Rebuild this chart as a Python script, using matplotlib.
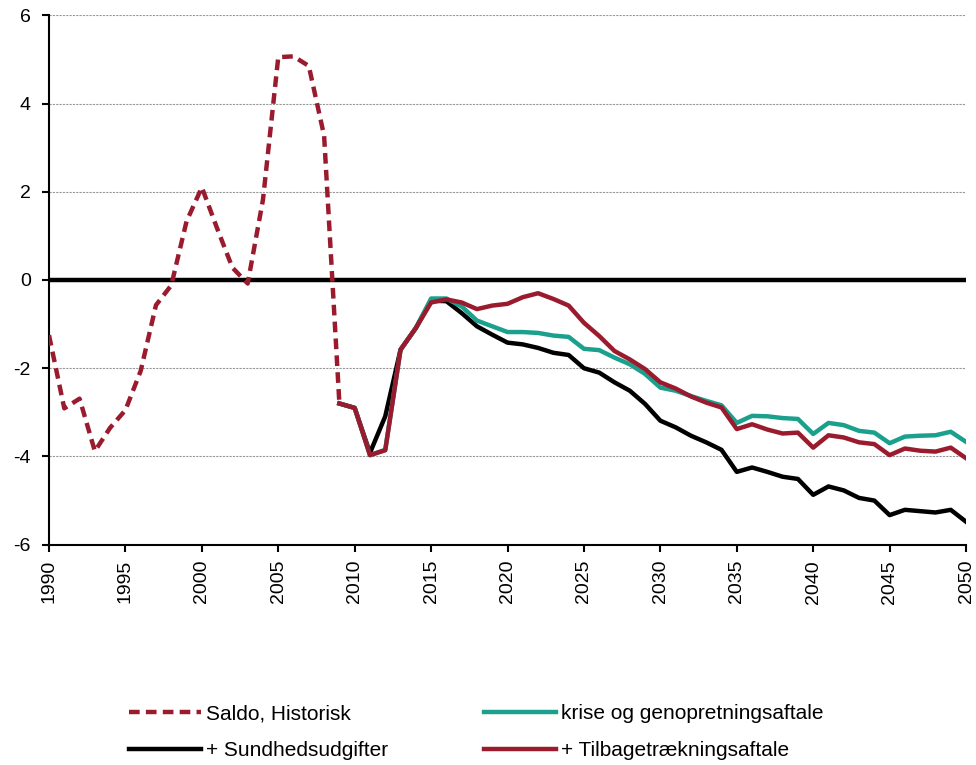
import matplotlib
matplotlib.use("Agg")
import matplotlib.pyplot as plt
import numpy as np

plt.rcParams['font.family'] = ['Liberation Sans', 'DejaVu Sans']
plt.rcParams['axes.unicode_minus'] = False

# --- data -----------------------------------------------------------
hist_years = list(range(1990, 2010))
hist_vals = [-1.25, -2.91, -2.69, -3.88, -3.35, -2.95, -2.06, -0.57, -0.12, 1.33,
             2.10, 1.17, 0.28, -0.08, 1.82, 5.05, 5.07, 4.85, 3.27, -2.80]

proj_years = list(range(2009, 2051))
krise = [-2.80, -2.90, -3.97, -3.85, -1.58, -1.09, -0.42, -0.42, -0.60, -0.92,
         -1.05, -1.18, -1.18, -1.20, -1.26, -1.29, -1.56, -1.59, -1.76, -1.91,
         -2.13, -2.44, -2.51, -2.63, -2.74, -2.84, -3.24, -3.08, -3.09, -3.13,
         -3.15, -3.49, -3.24, -3.29, -3.42, -3.46, -3.70, -3.55, -3.53, -3.52,
         -3.44, -3.67]
sundhed = [-2.80, -2.90, -3.92, -3.09, -1.58, -1.09, -0.47, -0.48, -0.75, -1.05,
           -1.24, -1.42, -1.46, -1.54, -1.65, -1.70, -2.00, -2.10, -2.32, -2.51,
           -2.81, -3.19, -3.34, -3.53, -3.68, -3.85, -4.35, -4.25, -4.35, -4.46,
           -4.51, -4.87, -4.68, -4.77, -4.94, -5.00, -5.33, -5.21, -5.24, -5.27,
           -5.21, -5.48]
tilbage = [-2.80, -2.90, -3.97, -3.86, -1.58, -1.09, -0.51, -0.44, -0.51, -0.66,
           -0.58, -0.54, -0.39, -0.30, -0.43, -0.58, -0.97, -1.27, -1.61, -1.80,
           -2.02, -2.32, -2.46, -2.64, -2.78, -2.89, -3.38, -3.27, -3.39, -3.48,
           -3.46, -3.80, -3.52, -3.57, -3.68, -3.72, -3.97, -3.82, -3.87, -3.89,
           -3.80, -4.04]

labels = ['Saldo, Historisk', '+ Sundhedsudgifter',
          'krise og genopretningsaftale', '+ Tilbagetrækningsaftale']

red = '#9B1B2E'
teal = '#1BA08D'

# --- plot -----------------------------------------------------------
fig = plt.figure(figsize=(9.76, 7.65), dpi=100)
ax = fig.add_axes([0.0502, 0.288, 0.9396, 0.692])

ax.set_xlim(1990, 2050)
ax.set_ylim(-6, 6)
ax.set_yticks(np.arange(-6, 7, 2))
ax.set_xticks(np.arange(1990, 2051, 5))
ax.set_xticklabels([str(y) for y in range(1990, 2051, 5)], rotation=90)
ax.tick_params(labelsize=14, direction='out', length=5, width=1.5, color='black')
ax.tick_params(axis='y', pad=8)
ax.tick_params(axis='x', pad=6)

for g in [-4, -2, 2, 4, 6]:
    ax.axhline(g, color='#999999', lw=0.8, ls=(0, (2, 1)), zorder=1)
ax.axhline(0, color='black', lw=3.2, zorder=2)

for s in ['top', 'right']:
    ax.spines[s].set_visible(False)
for s in ['left', 'bottom']:
    ax.spines[s].set_linewidth(1.5)

lw = 3.2
l_black, = ax.plot(proj_years, sundhed, color='black', lw=lw, zorder=3)
l_teal, = ax.plot(proj_years, krise, color=teal, lw=lw, zorder=4)
l_red, = ax.plot(proj_years, tilbage, color=red, lw=lw, zorder=5)
l_hist, = ax.plot(hist_years, hist_vals, color=red, lw=lw, ls=(0, (2.4, 1.4)), zorder=6)

fig.legend([l_hist, l_black, l_teal, l_red], labels, ncol=2,
           loc='center', bbox_to_anchor=(0.488, 0.043), frameon=False,
           fontsize=15, handlelength=3.45, handletextpad=0.25,
           columnspacing=4.6, labelspacing=0.85)

fig.savefig('out.png', dpi=100)
